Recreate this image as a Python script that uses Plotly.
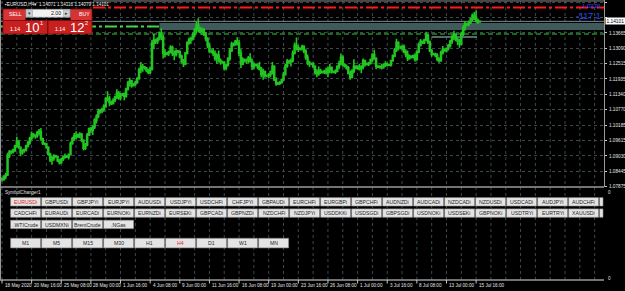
import plotly.graph_objects as go

# ---------------- data (EURUSD H4) ----------------
first_open = 1.0818
high = [
    1.0822, 1.0830, 1.0840, 1.0915, 1.0926, 1.0925,  # 18 May
    1.0930, 1.0945, 1.0975, 1.0962, 1.0940, 1.0928,
    1.0930, 1.0945, 1.0960, 1.0975, 1.0995, 1.0990,
    1.0985, 1.0998, 1.1005, 1.1008, 1.0972, 1.0955,
    1.0952, 1.0940, 1.0915, 1.0905, 1.0910, 1.0908,
    1.0905, 1.0892, 1.0895, 1.0905, 1.0912, 1.0906,  # 25 May
    1.0912, 1.0958, 1.0975, 1.0990, 1.0996, 1.0988,
    1.0992, 1.0990, 1.0966, 1.0952, 1.0990, 1.1010,
    1.1012, 1.1020, 1.1045, 1.1060, 1.1081, 1.1080,
    1.1085, 1.1098, 1.1125, 1.1147, 1.1130, 1.1112,
    1.1120, 1.1130, 1.1154, 1.1148, 1.1140, 1.1140,  # 1 Jun
    1.1142, 1.1160, 1.1185, 1.1198, 1.1190, 1.1178,
    1.1185, 1.1200, 1.1235, 1.1257, 1.1250, 1.1242,
    1.1238, 1.1232, 1.1240, 1.1340, 1.1362, 1.1345,
    1.1350, 1.1372, 1.1384, 1.1360, 1.1305, 1.1295,
    1.1300, 1.1320, 1.1318, 1.1300, 1.1305, 1.1302,  # 8 Jun
    1.1300, 1.1285, 1.1268, 1.1295, 1.1335, 1.1349,
    1.1352, 1.1368, 1.1385, 1.1410, 1.1422, 1.1390,
    1.1387, 1.1385, 1.1370, 1.1350, 1.1330, 1.1305,
    1.1310, 1.1300, 1.1290, 1.1300, 1.1270, 1.1262,
    1.1260, 1.1250, 1.1275, 1.1310, 1.1333, 1.1330,  # 15 Jun
    1.1340, 1.1350, 1.1340, 1.1305, 1.1275, 1.1270,
    1.1270, 1.1280, 1.1290, 1.1270, 1.1255, 1.1250,
    1.1252, 1.1258, 1.1238, 1.1232, 1.1225, 1.1210,
    1.1215, 1.1225, 1.1257, 1.1245, 1.1200, 1.1182,
    1.1185, 1.1195, 1.1220, 1.1250, 1.1268, 1.1265,  # 22 Jun
    1.1270, 1.1300, 1.1330, 1.1349, 1.1320, 1.1312,
    1.1322, 1.1320, 1.1305, 1.1285, 1.1262, 1.1255,
    1.1256, 1.1245, 1.1230, 1.1240, 1.1232, 1.1224,
    1.1228, 1.1235, 1.1240, 1.1249, 1.1240, 1.1225,
    1.1230, 1.1245, 1.1262, 1.1289, 1.1282, 1.1250,  # 29 Jun
    1.1248, 1.1242, 1.1225, 1.1230, 1.1267, 1.1245,
    1.1245, 1.1250, 1.1245, 1.1270, 1.1265, 1.1255,
    1.1258, 1.1270, 1.1290, 1.1303, 1.1275, 1.1245,
    1.1245, 1.1250, 1.1252, 1.1260, 1.1255, 1.1250,
    1.1265, 1.1285, 1.1310, 1.1345, 1.1335, 1.1318,  # 6 Jul
    1.1320, 1.1323, 1.1305, 1.1300, 1.1285, 1.1282,
    1.1285, 1.1290, 1.1300, 1.1330, 1.1344, 1.1338,
    1.1345, 1.1371, 1.1362, 1.1338, 1.1305, 1.1292,
    1.1292, 1.1290, 1.1275, 1.1300, 1.1317, 1.1308,
    1.1312, 1.1325, 1.1340, 1.1360, 1.1375, 1.1365,  # 13 Jul
    1.1350, 1.1345, 1.1370, 1.1395, 1.1410, 1.1405,
    1.1412, 1.1425, 1.1440, 1.1445, 1.1452, 1.1420,
    1.14116,
]
low = [
    1.0807, 1.0810, 1.0815, 1.0828, 1.0895, 1.0910,
    1.0912, 1.0918, 1.0935, 1.0930, 1.0902, 1.0908,
    1.0915, 1.0920, 1.0935, 1.0945, 1.0962, 1.0972,
    1.0968, 1.0972, 1.0980, 1.0960, 1.0944, 1.0943,
    1.0930, 1.0905, 1.0880, 1.0870, 1.0885, 1.0896,
    1.0880, 1.0871, 1.0874, 1.0884, 1.0893, 1.0895,
    1.0890, 1.0905, 1.0945, 1.0960, 1.0966, 1.0972,
    1.0970, 1.0955, 1.0924, 1.0926, 1.0940, 1.0978,
    1.0990, 1.0982, 1.1005, 1.1025, 1.1045, 1.1062,
    1.1064, 1.1070, 1.1085, 1.1108, 1.1090, 1.1095,
    1.1100, 1.1105, 1.1118, 1.1115, 1.1112, 1.1128,
    1.1113, 1.1122, 1.1150, 1.1165, 1.1160, 1.1165,
    1.1168, 1.1175, 1.1190, 1.1215, 1.1220, 1.1228,
    1.1218, 1.1211, 1.1212, 1.1225, 1.1305, 1.1325,
    1.1325, 1.1338, 1.1340, 1.1270, 1.1275, 1.1282,
    1.1280, 1.1290, 1.1280, 1.1264, 1.1278, 1.1290,
    1.1270, 1.1252, 1.1238, 1.1245, 1.1285, 1.1322,
    1.1326, 1.1338, 1.1350, 1.1365, 1.1370, 1.1365,
    1.1360, 1.1355, 1.1335, 1.1310, 1.1290, 1.1290,
    1.1280, 1.1262, 1.1250, 1.1255, 1.1247, 1.1250,
    1.1225, 1.1226, 1.1240, 1.1262, 1.1295, 1.1315,
    1.1318, 1.1320, 1.1280, 1.1234, 1.1245, 1.1255,
    1.1250, 1.1252, 1.1255, 1.1227, 1.1230, 1.1240,
    1.1230, 1.1225, 1.1200, 1.1190, 1.1198, 1.1200,
    1.1195, 1.1200, 1.1210, 1.1185, 1.1168, 1.1170,
    1.1170, 1.1175, 1.1185, 1.1205, 1.1235, 1.1250,
    1.1240, 1.1255, 1.1285, 1.1300, 1.1295, 1.1300,
    1.1300, 1.1290, 1.1265, 1.1245, 1.1238, 1.1245,
    1.1235, 1.1210, 1.1200, 1.1205, 1.1212, 1.1214,
    1.1212, 1.1210, 1.1200, 1.1215, 1.1214, 1.1215,
    1.1212, 1.1218, 1.1230, 1.1245, 1.1240, 1.1236,
    1.1228, 1.1210, 1.1190, 1.1195, 1.1215, 1.1230,
    1.1228, 1.1225, 1.1215, 1.1230, 1.1240, 1.1244,
    1.1242, 1.1248, 1.1258, 1.1265, 1.1230, 1.1234,
    1.1232, 1.1229, 1.1232, 1.1238, 1.1240, 1.1242,
    1.1240, 1.1258, 1.1275, 1.1295, 1.1300, 1.1305,
    1.1300, 1.1290, 1.1275, 1.1261, 1.1265, 1.1270,
    1.1270, 1.1258, 1.1262, 1.1290, 1.1315, 1.1325,
    1.1325, 1.1335, 1.1325, 1.1295, 1.1277, 1.1282,
    1.1275, 1.1260, 1.1254, 1.1258, 1.1285, 1.1296,
    1.1293, 1.1300, 1.1312, 1.1325, 1.1340, 1.1335,
    1.1320, 1.1311, 1.1320, 1.1355, 1.1375, 1.1392,
    1.1392, 1.1400, 1.1410, 1.1415, 1.1405, 1.1400,
    1.14071,
]
close = [
    1.0815, 1.0826, 1.0832, 1.0905, 1.0918, 1.0919,
    1.0925, 1.0940, 1.0958, 1.0935, 1.0915, 1.0924,
    1.0927, 1.0940, 1.0952, 1.0970, 1.0985, 1.0979,
    1.0978, 1.0990, 1.0995, 1.0968, 1.0950, 1.0948,
    1.0935, 1.0910, 1.0888, 1.0895, 1.0902, 1.0901,
    1.0886, 1.0878, 1.0890, 1.0898, 1.0902, 1.0899,
    1.0908, 1.0950, 1.0968, 1.0978, 1.0975, 1.0983,
    1.0985, 1.0962, 1.0932, 1.0945, 1.0982, 1.1005,
    1.1000, 1.1012, 1.1038, 1.1052, 1.1070, 1.1074,
    1.1078, 1.1090, 1.1118, 1.1120, 1.1105, 1.1100,
    1.1112, 1.1125, 1.1140, 1.1122, 1.1133, 1.1136,
    1.1128, 1.1155, 1.1178, 1.1185, 1.1168, 1.1172,
    1.1180, 1.1195, 1.1228, 1.1240, 1.1238, 1.1234,
    1.1225, 1.1218, 1.1230, 1.1328, 1.1340, 1.1335,
    1.1345, 1.1365, 1.1352, 1.1290, 1.1285, 1.1290,
    1.1295, 1.1312, 1.1290, 1.1285, 1.1298, 1.1295,
    1.1278, 1.1260, 1.1250, 1.1290, 1.1328, 1.1341,
    1.1345, 1.1360, 1.1378, 1.1395, 1.1380, 1.1372,
    1.1378, 1.1362, 1.1345, 1.1320, 1.1298, 1.1298,
    1.1290, 1.1270, 1.1282, 1.1262, 1.1255, 1.1256,
    1.1235, 1.1245, 1.1270, 1.1300, 1.1325, 1.1321,
    1.1335, 1.1328, 1.1290, 1.1250, 1.1265, 1.1262,
    1.1262, 1.1272, 1.1260, 1.1240, 1.1248, 1.1245,
    1.1238, 1.1230, 1.1210, 1.1220, 1.1205, 1.1205,
    1.1210, 1.1220, 1.1240, 1.1190, 1.1175, 1.1177,
    1.1180, 1.1190, 1.1212, 1.1242, 1.1260, 1.1258,
    1.1262, 1.1290, 1.1320, 1.1310, 1.1305, 1.1309,
    1.1315, 1.1298, 1.1275, 1.1255, 1.1250, 1.1250,
    1.1240, 1.1218, 1.1212, 1.1225, 1.1218, 1.1220,
    1.1222, 1.1218, 1.1228, 1.1236, 1.1220, 1.1219,
    1.1222, 1.1240, 1.1250, 1.1275, 1.1248, 1.1240,
    1.1235, 1.1215, 1.1200, 1.1222, 1.1240, 1.1234,
    1.1240, 1.1232, 1.1238, 1.1262, 1.1248, 1.1250,
    1.1252, 1.1265, 1.1285, 1.1270, 1.1242, 1.1238,
    1.1240, 1.1236, 1.1245, 1.1250, 1.1246, 1.1245,
    1.1262, 1.1280, 1.1302, 1.1330, 1.1310, 1.1310,
    1.1315, 1.1295, 1.1285, 1.1270, 1.1278, 1.1275,
    1.1280, 1.1268, 1.1295, 1.1320, 1.1335, 1.1330,
    1.1340, 1.1358, 1.1332, 1.1300, 1.1285, 1.1287,
    1.1282, 1.1268, 1.1262, 1.1292, 1.1305, 1.1300,
    1.1308, 1.1318, 1.1335, 1.1350, 1.1362, 1.1342,
    1.1335, 1.1325, 1.1362, 1.1385, 1.1402, 1.1398,
    1.1405, 1.1418, 1.1432, 1.1425, 1.1412, 1.1408,
    1.14101,
]
open_ = [first_open] + close[:-1]
bars = list(range(len(close)))

price_ticks = [1.07875, 1.08445, 1.09030, 1.09615, 1.10185, 1.10770, 1.11340,
               1.11935, 1.12515, 1.13090, 1.13665, 1.14245, 1.14820]
price_tick_text = ["1.07875", "1.08445", "1.09030", "1.09615", "1.10185", "1.10770",
                   "1.11340", "1.11935", "1.12515", "1.13090", "1.13665", "", "1.14820"]
bid_price = 1.14101
ohlc_text = "1.14071 1.14116 1.14079 1.14101"

time_tick_bars = [0, 16, 32, 48, 64, 80, 96, 112, 128, 144, 160, 176, 192, 208, 224, 240, 256]
time_tick_labels = ["18 May 2020", "20 May 16:00", "25 May 08:00", "28 May 00:00", "1 Jun 16:00",
                    "4 Jun 08:00", "9 Jun 00:00", "11 Jun 16:00", "16 Jun 08:00", "19 Jun 00:00",
                    "23 Jun 16:00", "26 Jun 08:00", "1 Jul 00:00", "3 Jul 16:00", "8 Jul 08:00",
                    "13 Jul 00:00", "15 Jul 16:00"]
grid_bars = list(range(0, 328, 8))

# chart objects (prices)
red_line_price = 1.14623
top_line_price = 1.14868
band_top, band_bottom = 1.14041, 1.13778
band_start_bar = 85
green_line_price = 1.13909
dark_green_price = 1.13627
trend_price, trend_from, trend_to = 1.13515, 232, 256.5

symbols_row1 = ["EURUSDi", "GBPUSDi", "GBPJPYi", "EURJPYi", "AUDUSDi", "USDJPYi", "USDCHFi",
                "CHFJPYi", "GBPAUDi", "EURCHFi", "EURGBPi", "GBPCHFi", "AUDNZDi", "AUDCADi",
                "NZDCADi", "NZDUSDi", "USDCADi", "AUDJPYi", "AUDCHFi", ""]
symbols_row2 = ["CADCHFi", "EURAUDi", "EURCADi", "EURNOKi", "EURNZDi", "EURSEKi", "GBPCADi",
                "GBPNZDi", "NZDCHFi", "NZDJPYi", "USDDKKi", "USDSGDi", "GBPSGDi", "USDNOKi",
                "USDSEKi", "GBPNOKi", "USDTRYi", "EURTRYi", "XAUUSDi", ""]
symbols_row3 = [".WTICrude", "USDMXNi", "BrentCrude", ".NGas"]
timeframes = ["M1", "M5", "M15", "M30", "H1", "H4", "D1", "W1", "MN"]
active_symbol, active_tf = "EURUSDi", "H4"

# ---------------- layout helpers (pixel -> paper) ----------------
PW, PH = 604.0, 280.0
def px(x):
    return x / PW
def py(y):
    return 1 - y / PH

FONT = "Liberation Sans, Arial, sans-serif"
GRID = "#3c4a4b"
FRAME = "#9a9a9a"

fig = go.Figure()
fig.add_trace(go.Candlestick(
    x=bars, open=open_, high=high, low=low, close=close,
    increasing=dict(line=dict(color="#22c622", width=1.6), fillcolor="#0b3a0b"),
    decreasing=dict(line=dict(color="#22c622", width=1.6), fillcolor="#c8f7c8"),
    whiskerwidth=0, hoverinfo="skip", showlegend=False,
    xaxis="x", yaxis="y",
))

shapes = []
annotations = []

# vertical dotted grid
for b in grid_bars:
    shapes.append(dict(type="line", xref="x", yref="paper", x0=b, x1=b, y0=0, y1=1,
                       line=dict(color=GRID, width=1, dash="dot"), layer="below"))

def hline(price, color, width, dash, x0=0.0, x1=1.0):
    shapes.append(dict(type="line", xref="paper", yref="y", x0=x0, x1=x1, y0=price, y1=price,
                       line=dict(color=color, width=width, dash=dash), layer="between"))

# objects on the chart
shapes.append(dict(type="rect", xref="x", yref="y", x0=band_start_bar, x1=325.05,
                   y0=band_bottom, y1=band_top, fillcolor="#3f5a5a", line=dict(width=0),
                   layer="between"))
hline(top_line_price, "#8a8a8a", 1, "solid", x0=px(93))
hline(red_line_price, "#ff1a1a", 2, "12px,3px,3px,3px", x0=px(93))
hline(bid_price, "#7d8d8d", 1, "solid")
hline(green_line_price, "#44d444", 2, "12px,3px,3px,3px")
hline(dark_green_price, "#1f8a1f", 1.5, "5px,3px")
shapes.append(dict(type="line", xref="x", yref="y", x0=trend_from, x1=trend_to,
                   y0=trend_price, y1=trend_price, line=dict(color="#6f8c8c", width=1.5),
                   layer="between"))

# window frame lines
for yy in (187, 280):
    shapes.append(dict(type="line", xref="paper", yref="paper", x0=0, x1=px(604),
                       y0=py(yy), y1=py(yy), line=dict(color=FRAME, width=1.5), layer="above"))
shapes.append(dict(type="line", xref="paper", yref="paper", x0=px(0.5), x1=px(0.5),
                   y0=0, y1=1, line=dict(color=FRAME, width=1), layer="above"))

# time axis ticks and labels
for b, lab in zip(time_tick_bars, time_tick_labels):
    shapes.append(dict(type="line", xref="x", yref="paper", x0=b, x1=b, y0=py(280), y1=py(283.5),
                       line=dict(color="#c8c8c8", width=1), layer="above"))
    annotations.append(dict(x=b, xref="x", y=py(285.5), yref="paper", text=lab, showarrow=False,
                            xanchor="left", yanchor="middle", xshift=0.5,
                            font=dict(family=FONT, size=4.6, color="#e6e6e6")))

# ---------------- SymbolChanger panel ----------------
annotations.append(dict(x=px(3), y=py(192.8), xref="paper", yref="paper", text="SymbolChanger1",
                        showarrow=False, xanchor="left", yanchor="middle",
                        font=dict(family=FONT, size=4.6, color="#e0e0e0")))

def button(x0, y0, w, h, label, color):
    x1 = min(x0 + w, 603.0)
    shapes.append(dict(type="rect", xref="paper", yref="paper", x0=px(x0), x1=px(x1),
                       y0=py(y0 + h), y1=py(y0), fillcolor="#e4e4e4",
                       line=dict(color="#8c8c8c", width=0.6), layer="above"))
    if label:
        annotations.append(dict(x=px(x0 + w / 2), y=py(y0 + h / 2 + 0.2), xref="paper",
                                yref="paper", text=label, showarrow=False, xanchor="center",
                                yanchor="middle",
                                font=dict(family=FONT, size=5.2, color=color)))

BX0, PITCH, BW = 10.6, 31.0, 30.0
for r, (row, top) in enumerate([(symbols_row1, 197.6), (symbols_row2, 208.9), (symbols_row3, 220.2)]):
    for k, s in enumerate(row):
        button(BX0 + PITCH * k, top, BW, 8.4, s, "#e02020" if s == active_symbol else "#1e1e1e")
for k, tf in enumerate(timeframes):
    button(BX0 + PITCH * k, 238.3, BW, 9.6, tf, "#e02020" if tf == active_tf else "#2a2a2a")

annotations.append(dict(x=1, xref="paper", y=py(192), yref="paper", text="0", showarrow=False,
                        xanchor="left", yanchor="middle", xshift=1.5,
                        font=dict(family=FONT, size=4.6, color="#e0e0e0")))
annotations.append(dict(x=1, xref="paper", y=py(278), yref="paper", text="0", showarrow=False,
                        xanchor="left", yanchor="middle", xshift=1.5,
                        font=dict(family=FONT, size=4.6, color="#e0e0e0")))

# ---------------- one-click trading panel ----------------
def rect(x0, y0, x1, y1, fill, line="#7a0c0c", lw=0.8):
    shapes.append(dict(type="rect", xref="paper", yref="paper", x0=px(x0), x1=px(x1),
                       y0=py(y1), y1=py(y0), fillcolor=fill, line=dict(color=line, width=lw),
                       layer="above"))

def text(x, y, s, size, color="#ffffff", anchor="left"):
    annotations.append(dict(x=px(x), y=py(y), xref="paper", yref="paper", text=s,
                            showarrow=False, xanchor=anchor, yanchor="middle",
                            font=dict(family=FONT, size=size, color=color)))

rect(3, 9, 25.5, 20.5, "#d63434")
rect(70.5, 9, 92, 20.5, "#d63434")
rect(3, 20.5, 47.5, 34, "#c81f1f")
rect(48, 20.5, 92, 34, "#c81f1f")
rect(25.8, 9.3, 70.2, 17.2, "#f2f2f2", line="#9a9a9a", lw=0.6)
rect(26.3, 9.8, 32.5, 16.7, "#cfcfcf", line="#8a8a8a", lw=0.4)
rect(63.5, 9.8, 69.7, 16.7, "#cfcfcf", line="#8a8a8a", lw=0.4)
text(29.4, 13.2, "▾", 5, "#333333", "center")
text(66.6, 13.2, "▸", 5, "#333333", "center")
text(55.5, 13.3, "2.00", 5.2, "#111111", "center")
text(7, 14.3, "SELL", 5.2)
text(76.5, 14.3, "BUY", 5.2)
text(8, 29.2, "1.14", 5.2)
text(22.5, 27.2, "10", 13)
text(38.3, 23.2, "1", 5.6)
text(53, 29.2, "1.14", 5.2)
text(67.5, 27.2, "12", 13)
text(83.4, 23.2, "2", 5.6)

# title
text(3, 4.6, "▪EURUSD,H4▾", 4.8, "#e8e8e8")
text(36.5, 4.6, ohlc_text, 4.6, "#e8e8e8")

# profit texts near right edge
annotations.append(dict(x=px(603), y=py(6), xref="paper", yref="paper", text="1.0230",
                        showarrow=False, xanchor="right", yanchor="middle",
                        font=dict(family=FONT, size=6, color="#3a4cff")))
annotations.append(dict(x=px(603), y=py(15.5), xref="paper", yref="paper", text="-117.1",
                        showarrow=False, xanchor="right", yanchor="middle",
                        font=dict(family=FONT, size=9, color="#2a46ff")))

# current price label on axis
annotations.append(dict(x=1, xref="paper", y=bid_price, yref="y", text="1.14101",
                        showarrow=False, xanchor="left", yanchor="middle", xshift=0.5,
                        bgcolor="#ffffff", borderpad=0.5,
                        font=dict(family=FONT, size=4.8, color="#000000")))

y_top_price = 1.14905
y_bottom_price = 1.07862

fig.update_layout(
    width=625, height=291,
    margin=dict(l=0, r=21, t=0, b=11, pad=0),
    paper_bgcolor="#000000", plot_bgcolor="#000000",
    showlegend=False,
    xaxis=dict(range=[-1.08, 325.05], showgrid=False, zeroline=False, showticklabels=False,
               ticks="", showline=False, rangeslider=dict(visible=False), anchor="y2",
               fixedrange=True),
    yaxis=dict(domain=[py(187), 1], range=[y_bottom_price, y_top_price], side="right",
               tickmode="array", tickvals=price_ticks, ticktext=price_tick_text, showgrid=True,
               gridcolor=GRID, griddash="dot", gridwidth=1, zeroline=False,
               showline=True, linecolor=FRAME, linewidth=1, ticks="outside", ticklen=2,
               tickcolor="#c8c8c8", ticklabelstandoff=1,
               tickfont=dict(family=FONT, size=4.7, color="#e6e6e6"), fixedrange=True),
    yaxis2=dict(domain=[0, py(188)], range=[0, 1], side="right", showgrid=False,
                zeroline=False, showticklabels=False, ticks="", showline=True,
                linecolor=FRAME, linewidth=1, fixedrange=True),
    shapes=shapes,
    annotations=annotations,
)

fig.write_html("out.html")
